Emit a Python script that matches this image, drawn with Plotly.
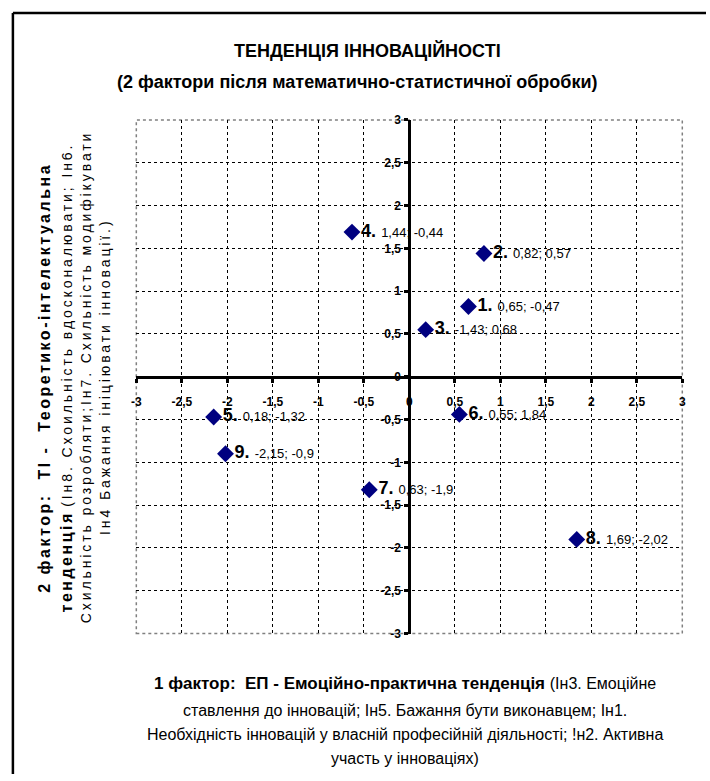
import plotly.graph_objects as go

# ---- data ----
point_ids = ["1.", "2.", "3.", "4.", "5.", "6.", "7.", "8.", "9."]
factor1 = [0.65, 0.82, 0.18, -0.63, -2.15, 0.55, -0.44, 1.84, -2.02]
factor2 = [0.82, 1.44, 0.55, 1.69, -0.47, -0.44, -1.32, -1.90, -0.90]
value_labels = ["0,65; -0,47", "0,82; 0,57", "-1,43; 0,68", "1,44; -0,44", "0,18; -1,32",
                "0,55; 1,84", "0,63; -1,9", "1,69; -2,02", "-2,15; -0,9"]
tick_vals = [-3, -2.5, -2, -1.5, -1, -0.5, 0, 0.5, 1, 1.5, 2, 2.5, 3]
tick_text = ["-3", "-2,5", "-2", "-1,5", "-1", "-0,5", "0", "0,5", "1", "1,5", "2", "2,5", "3"]

FONT = "Liberation Sans, Arial, sans-serif"
W, H = 710, 781
xd = [133 / W, 686 / W]
yd = [1 - 638 / H, 1 - 115 / H]

texts = [f"<b>{p}</b> <span style='font-size:13px'>{v}</span>" for p, v in zip(point_ids, value_labels)]

fig = go.Figure()
fig.add_trace(go.Scatter(
    x=factor1, y=factor2, mode="markers+text",
    marker=dict(symbol="diamond", size=13, color="#000080"),
    text=texts, textposition="middle right",
    textfont=dict(family=FONT, size=18, color="black"),
    cliponaxis=False, showlegend=False, hoverinfo="skip",
))

axis_common = dict(
    range=[-3, 3], tickvals=tick_vals, ticktext=tick_text,
    showgrid=True, gridcolor="black", griddash="dot", gridwidth=1,
    zeroline=False, showline=True, linecolor="black", linewidth=3,
    ticks="outside", ticklen=4, tickwidth=3, tickcolor="black",
    tickfont=dict(family=FONT, size=12, color="black", weight="bold"),
    anchor="free", fixedrange=True,
)
fig.update_layout(
    width=W, height=H, paper_bgcolor="white", plot_bgcolor="white",
    margin=dict(l=0, r=0, t=0, b=0),
    xaxis=dict(domain=xd, position=(yd[0] + yd[1]) / 2, ticklabelstandoff=9, **axis_common),
    yaxis=dict(domain=yd, position=(xd[0] + xd[1]) / 2, ticklabelstandoff=1, **axis_common),
    font=dict(family=FONT, color="black"),
)

# plot frame (gray dotted) and outer border
fig.add_shape(type="rect", xref="x domain", yref="y domain", x0=0, x1=1, y0=0, y1=1,
              line=dict(color="gray", width=1.5, dash="dot"), layer="below")
fig.add_shape(type="line", xref="paper", yref="paper", x0=8 / W, x1=8 / W, y0=0, y1=1 - 6 / H,
              line=dict(color="black", width=2.5))
fig.add_shape(type="line", xref="paper", yref="paper", x0=8 / W, x1=1, y0=1 - 6 / H, y1=1 - 6 / H,
              line=dict(color="black", width=2.5))


def ann(x, y, text, size, angle=0):
    fig.add_annotation(xref="paper", yref="paper", x=x / W, y=1 - y / H, showarrow=False,
                       xanchor="center", yanchor="middle",
                       text=text, textangle=angle, font=dict(family=FONT, size=size))


# titles
ann(367, 44, "<b>ТЕНДЕНЦІЯ ІННОВАЦІЙНОСТІ</b>", 18)
ann(357, 76, "<b>(2 фактори після математично-статистичної обробки)</b>", 18)

# x-axis title (4 lines)
ann(405, 689, "<b>1 фактор:  ЕП - Емоційно-практична тенденція</b> "
              "<span style='font-size:16px'>(Ін3. Емоційне</span>", 17)
ann(405, 716, "ставлення до інновацій; Ін5. Бажання бути виконавцем; Ін1.", 16)
ann(405, 741, "Необхідність інновацій у власній професійній діяльності; !н2. Активна", 16)
ann(405, 765, "участь у інноваціях)", 16)

# y-axis title (4 rotated lines, letter-spaced)
LS1 = "letter-spacing:2.5px"
LS2 = "letter-spacing:2.9px"
ann(40, 377, f"<span style='{LS1}'><b>2 фактор:  ТІ -  Теоретико-інтелектуальна</b></span>", 16, -90)
ann(62, 377, f"<span style='{LS1}'><b>тенденція</b></span> "
             f"<span style='font-size:14px;{LS2}'>(Ін8. Схоильність вдосконалювати; Ін6.</span>", 16, -90)
ann(82, 376, f"<span style='{LS2}'>Схильність розробляти;Ін7. Схильність модифікувати</span>", 14, -90)
ann(102, 377, f"<span style='{LS2}'>Ін4 Бажання ініціювати інновації.)</span>", 14, -90)

fig.write_html(
    "out.html",
    config={"displayModeBar": False},
    post_script=("var d=document.getElementById('{plot_id}');"
                 "d.style.position='fixed';d.style.top='0px';d.style.left='0px';"
                 "document.body.style.margin='0';"
                 "document.documentElement.style.overflow='hidden';"
                 "document.body.style.overflow='hidden';"),
)
